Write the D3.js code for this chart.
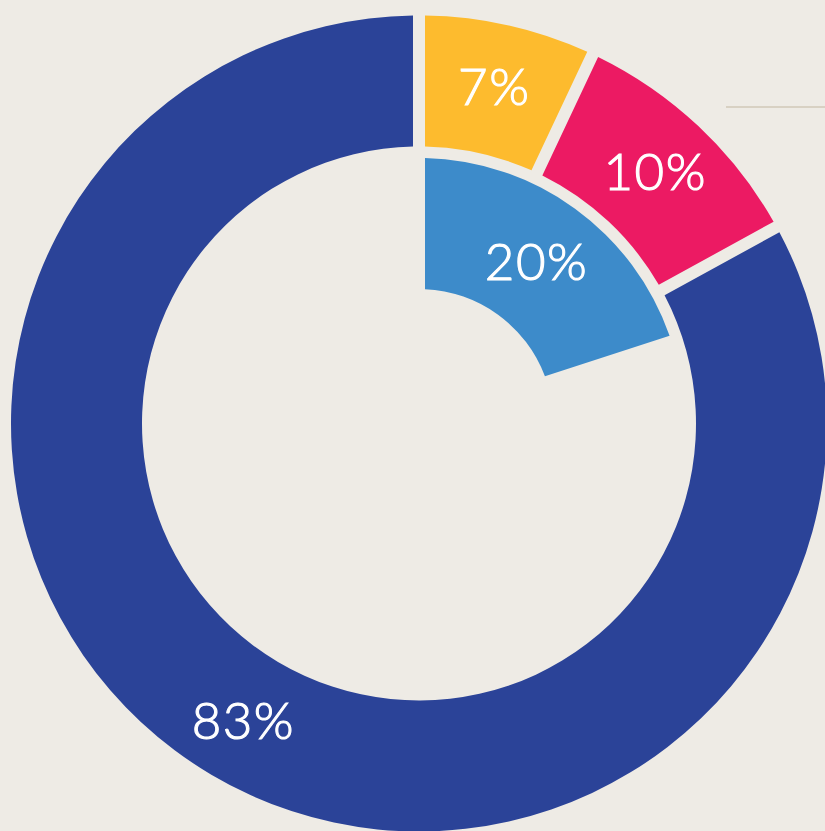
<!DOCTYPE html>
<html>
<head>
<meta charset="utf-8">
<script src="https://cdn.jsdelivr.net/npm/d3@7/dist/d3.min.js"></script>
<style>
  html, body { margin: 0; padding: 0; background: #EEEBE5; }
  svg { display: block; }
</style>
</head>
<body>
<svg id="chart" width="825" height="831"></svg>
<script>
// Outer ring: share of total
const outerLabels = ["7%", "10%", "83%"];
const outerValues = [7, 10, 83];
const outerColors = ["#FDBB2E", "#EC1A63", "#2B4398"];

// Inner ring: single highlighted share
const innerLabels = ["20%"];
const innerValues = [20];
const innerColor = "#3D8BCA";

const W = 825, H = 831;
const cx = 419, cy = 423.5;
const outerR0 = 277, outerR1 = 408;
const innerR0 = 134.5, innerR1 = 265.5;
const gap = 12;           // constant-width gap between segments
const padRadius = 100;
const padAngle = 2 * Math.asin(gap / 2 / padRadius);

const svg = d3.select("#chart");

svg.append("rect")
  .attr("width", W).attr("height", H)
  .attr("fill", "#EEEBE5");

// thin rule at top right
svg.append("line")
  .attr("x1", 726).attr("x2", W)
  .attr("y1", 107).attr("y2", 107)
  .attr("stroke", "#D8D1C3")
  .attr("stroke-width", 2);

const g = svg.append("g").attr("transform", `translate(${cx},${cy})`);

const pie = d3.pie().sort(null).value(d => d.value);

const outerArc = d3.arc()
  .innerRadius(outerR0).outerRadius(outerR1)
  .padAngle(padAngle).padRadius(padRadius);

const outerData = pie(outerValues.map((v, i) => ({ value: v, label: outerLabels[i], color: outerColors[i] })));

g.selectAll("path.outer")
  .data(outerData)
  .join("path")
  .attr("class", "outer")
  .attr("d", outerArc)
  .attr("fill", d => d.data.color);

// inner ring: the highlighted share plus an undrawn remainder
const innerTotal = 100;
const innerData = pie([
  ...innerValues.map((v, i) => ({ value: v, label: innerLabels[i], show: true })),
  { value: innerTotal - d3.sum(innerValues), label: "", show: false }
]);

const innerArc = d3.arc()
  .innerRadius(innerR0).outerRadius(innerR1)
  .padAngle(padAngle).padRadius(padRadius);

g.selectAll("path.inner")
  .data(innerData.filter(d => d.data.show))
  .join("path")
  .attr("class", "inner")
  .attr("d", innerArc)
  .attr("fill", innerColor);

// labels at segment centroids
const outerLabelArc = d3.arc().innerRadius(345).outerRadius(345);
const innerLabelArc = d3.arc().innerRadius(200).outerRadius(200);

const textStyle = sel => sel
  .attr("text-anchor", "middle")
  .attr("dy", "0.36em")
  .attr("fill", "#FFFFFF")
  .attr("stroke", "#FFFFFF")
  .attr("stroke-width", 1.1)
  .attr("font-family", "Lato, 'Open Sans', sans-serif")
  .attr("font-size", 51)
  .attr("font-weight", 300)
  .attr("letter-spacing", 1.5);

g.selectAll("text.outer")
  .data(outerData)
  .join("text")
  .attr("class", "outer")
  .attr("transform", d => `translate(${outerLabelArc.centroid(d)})`)
  .text(d => d.data.label)
  .call(textStyle);

g.selectAll("text.inner")
  .data(innerData.filter(d => d.data.show))
  .join("text")
  .attr("class", "inner")
  .attr("transform", d => `translate(${innerLabelArc.centroid(d)})`)
  .text(d => d.data.label)
  .call(textStyle);
</script>
</body>
</html>
